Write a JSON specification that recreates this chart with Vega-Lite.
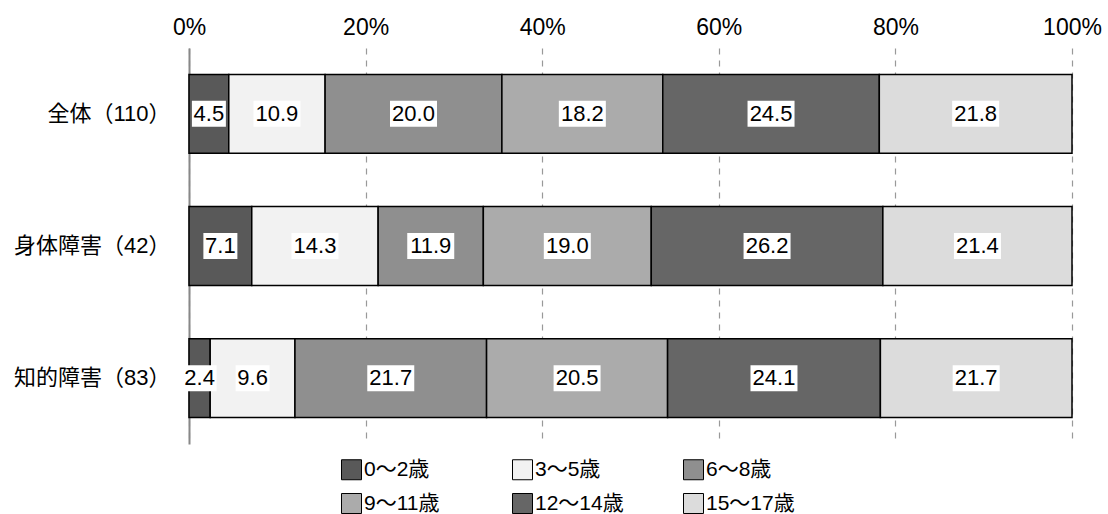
{
  "$schema": "https://vega.github.io/schema/vega-lite/v6.json",
  "width": 883,
  "height": 396,
  "autosize": {"type": "none"},
  "padding": {"left": 189, "top": 48, "right": 36, "bottom": 70},
  "background": "white",
  "config": {"font": "Liberation Sans, Noto Sans CJK JP", "view": {"stroke": null}},
  "data": {
    "values": [
      {"group": "全体（110）", "age": "0～2歳", "k": 1, "value": 4.5},
      {"group": "全体（110）", "age": "3～5歳", "k": 2, "value": 10.9},
      {"group": "全体（110）", "age": "6～8歳", "k": 3, "value": 20.0},
      {"group": "全体（110）", "age": "9～11歳", "k": 4, "value": 18.2},
      {"group": "全体（110）", "age": "12～14歳", "k": 5, "value": 24.5},
      {"group": "全体（110）", "age": "15～17歳", "k": 6, "value": 21.8},
      {"group": "身体障害（42）", "age": "0～2歳", "k": 1, "value": 7.1},
      {"group": "身体障害（42）", "age": "3～5歳", "k": 2, "value": 14.3},
      {"group": "身体障害（42）", "age": "6～8歳", "k": 3, "value": 11.9},
      {"group": "身体障害（42）", "age": "9～11歳", "k": 4, "value": 19.0},
      {"group": "身体障害（42）", "age": "12～14歳", "k": 5, "value": 26.2},
      {"group": "身体障害（42）", "age": "15～17歳", "k": 6, "value": 21.4},
      {"group": "知的障害（83）", "age": "0～2歳", "k": 1, "value": 2.4},
      {"group": "知的障害（83）", "age": "3～5歳", "k": 2, "value": 9.6},
      {"group": "知的障害（83）", "age": "6～8歳", "k": 3, "value": 21.7},
      {"group": "知的障害（83）", "age": "9～11歳", "k": 4, "value": 20.5},
      {"group": "知的障害（83）", "age": "12～14歳", "k": 5, "value": 24.1},
      {"group": "知的障害（83）", "age": "15～17歳", "k": 6, "value": 21.7}
    ]
  },
  "transform": [
    {"stack": "value", "groupby": ["group"], "sort": [{"field": "k", "order": "ascending"}], "offset": "normalize", "as": ["v0", "v1"]},
    {"calculate": "(datum.v0 + datum.v1) / 2", "as": "mid"}
  ],
  "encoding": {
    "y": {
      "field": "group",
      "type": "nominal",
      "sort": ["全体（110）", "身体障害（42）", "知的障害（83）"],
      "scale": {"paddingInner": 0.404, "paddingOuter": 0.2},
      "axis": {
        "title": null,
        "ticks": false,
        "domain": true,
        "domainColor": "#888888",
        "domainWidth": 2,
        "labelFontSize": 22,
        "labelColor": "#000000",
        "labelPadding": 19
      }
    }
  },
  "layer": [
    {
      "mark": {"type": "bar", "stroke": "#000000", "strokeWidth": 1.5, "opacity": 1},
      "encoding": {
        "x": {
          "field": "v0",
          "type": "quantitative",
          "scale": {"domain": [0, 1], "nice": false},
          "axis": {
            "orient": "top",
            "title": null,
            "format": "%",
            "values": [0, 0.2, 0.4, 0.6, 0.8, 1],
            "grid": true,
            "gridDash": [6, 6],
            "gridColor": "#999999",
            "gridWidth": 1.2,
            "domain": false,
            "ticks": false,
            "labelFontSize": 23,
            "labelColor": "#000000",
            "labelPadding": 9,
            "labelFlush": false
          }
        },
        "x2": {"field": "v1"},
        "color": {
          "field": "age",
          "type": "nominal",
          "scale": {
            "domain": ["0～2歳", "3～5歳", "6～8歳", "9～11歳", "12～14歳", "15～17歳"],
            "range": ["#595959", "#f2f2f2", "#8f8f8f", "#ababab", "#666666", "#dcdcdc"]
          },
          "legend": {
            "title": null,
            "orient": "none",
            "legendX": 152,
            "legendY": 411,
            "direction": "horizontal",
            "columns": 3,
            "gridAlign": "all",
            "symbolType": "square",
            "symbolSize": 400,
            "symbolStrokeColor": "#000000",
            "symbolStrokeWidth": 1,
            "labelFontSize": 21,
            "labelColor": "#000000",
            "labelOffset": 2,
            "columnPadding": 57,
            "rowPadding": 9
          }
        }
      }
    },
    {
      "transform": [{"filter": "datum.value < 10"}],
      "mark": {"type": "tick", "color": "#ffffff", "opacity": 1, "size": 26, "thickness": 34},
      "encoding": {"x": {"field": "mid", "type": "quantitative"}}
    },
    {
      "transform": [{"filter": "datum.value >= 10"}],
      "mark": {"type": "tick", "color": "#ffffff", "opacity": 1, "size": 26, "thickness": 47},
      "encoding": {"x": {"field": "mid", "type": "quantitative"}}
    },
    {
      "mark": {"type": "text", "fontSize": 22, "color": "#000000"},
      "encoding": {
        "x": {"field": "mid", "type": "quantitative"},
        "text": {"field": "value", "type": "quantitative", "format": ".1f"}
      }
    }
  ]
}
